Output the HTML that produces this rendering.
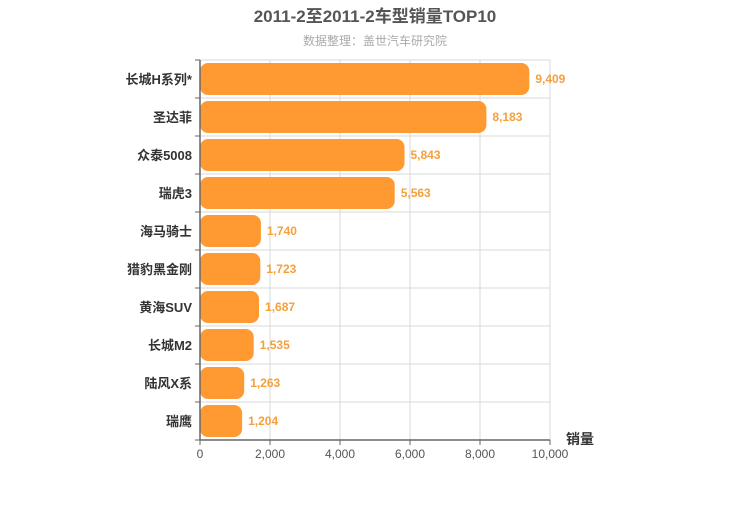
<!DOCTYPE html>
<html><head><meta charset="utf-8"><style>
body{margin:0;background:#fff;}
svg text{font-family:"Liberation Sans","Noto Sans CJK SC",sans-serif;}
</style></head><body>
<svg id="c" width="750" height="500">
<text x="375" y="22" text-anchor="middle" font-size="17" font-weight="bold" fill="#555">2011-2至2011-2车型销量TOP10</text>
<text x="375" y="45" text-anchor="middle" font-size="12" fill="#aaa">数据整理：盖世汽车研究院</text>
<g id="grid"></g><g id="bars"></g><g id="axes"></g>
<text x="580" y="444" text-anchor="middle" font-size="14" font-weight="bold" fill="#333">销量</text>
</svg>
<script>
const categories=["长城H系列*","圣达菲","众泰5008","瑞虎3","海马骑士","猎豹黑金刚","黄海SUV","长城M2","陆风X系","瑞鹰"];
const values=[9409,8183,5843,5563,1740,1723,1687,1535,1263,1204];
const valueLabels=["9,409","8,183","5,843","5,563","1,740","1,723","1,687","1,535","1,263","1,204"];
const ticks=[0,2000,4000,6000,8000,10000];
const tickLabels=["0","2,000","4,000","6,000","8,000","10,000"];
const NS="http://www.w3.org/2000/svg";
const x0=200,x1=550,yTop=60,yBot=440,max=10000;
const rowH=(yBot-yTop)/categories.length;
const X=v=>x0+(v/max)*(x1-x0);
const Y=i=>yTop+i*rowH;
function mk(p,t,a){const e=document.createElementNS(NS,t);for(const k in a)e.setAttribute(k,a[k]);document.getElementById(p).appendChild(e);return e;}
ticks.forEach((t,i)=>{
 const l=mk('grid','line',{x1:X(t),x2:X(t),y1:yTop,y2:yBot,stroke:'#d8d8d8'});
 
 
 const tx=mk('axes','text',{x:X(t),y:yBot+18,'text-anchor':'middle','font-size':12,fill:'#555'});
 tx.textContent=tickLabels[i];
 
 
 const tk=mk('axes','line',{x1:X(t),x2:X(t),y1:yBot,y2:yBot+5,stroke:'#666'});
 
 
});
for(let i=0;i<=categories.length;i++){
 const l=mk('grid','line',{x1:x0-5,x2:x1,y1:Y(i),y2:Y(i),stroke:'#d8d8d8'});
 
 
 const tk=mk('axes','line',{x1:x0-5,x2:x0,y1:Y(i),y2:Y(i),stroke:'#666'});
 
 
}
categories.forEach((c,i)=>{
 const y=Y(i)+3;
 const r=mk('bars','rect',{x:x0,y:y,width:X(values[i])-x0,height:rowH-6,rx:8,ry:8,fill:'#ff9a33'});
 
 
 const v=mk('bars','text',{x:X(values[i])+6,y:Y(i)+rowH/2+4,'font-size':12,'font-weight':'bold',fill:'#f5a03c'});
 v.textContent=valueLabels[i];
 
 
 const t=mk('axes','text',{x:x0-8,y:Y(i)+rowH/2+5,'text-anchor':'end','font-size':13,'font-weight':'bold',fill:'#333'});
 t.textContent=c;
 
 
});
const ax=mk('axes','line',{x1:x0,x2:x1,y1:yBot,y2:yBot,stroke:'#666','stroke-width':1.5});


const ay=mk('axes','line',{x1:x0,x2:x0,y1:yTop,y2:yBot,stroke:'#666','stroke-width':1.5});


</script>
</body></html>
